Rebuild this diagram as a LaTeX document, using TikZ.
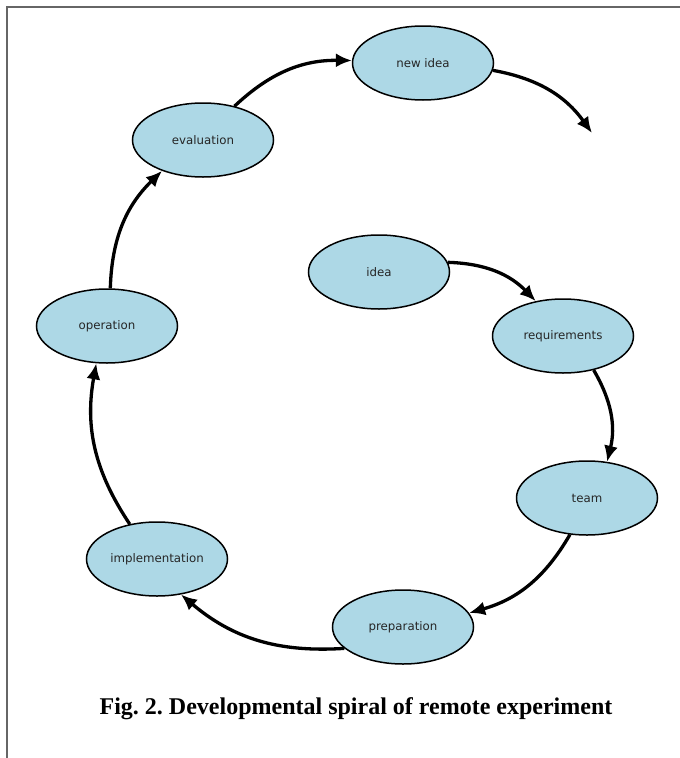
\documentclass[tikz,border=0pt]{standalone}
\usepackage{fontspec}
\setmainfont{Liberation Serif}
\newfontfamily\nodefont{DejaVu Sans}
\usetikzlibrary{shapes.geometric,arrows.meta}
\definecolor{nodefill}{HTML}{ADD8E6}
\definecolor{framegray}{HTML}{666666}
\frenchspacing
\tikzset{
  stage/.style={ellipse, draw=black, line width=1.5pt, fill=nodefill,
    minimum width=141pt, minimum height=74pt, inner sep=0pt,
    font=\nodefont\fontsize{11.8}{13}\selectfont, text=black!85},
  flow/.style={line width=3.3pt, -{Latex[length=16pt,width=14pt]}, bend left=22},
  frame/.style={draw=framegray, line width=1.6pt}
}
\begin{document}
\begin{tikzpicture}[x=1pt,y=-1pt]
\useasboundingbox (0,0) rectangle (680,758);
\draw[frame] (7,758) -- (7,7) -- (680,7);
\node[stage] (newidea) at (423,63) {new idea};
\node[stage] (eval) at (203,140) {evaluation};
\node[stage] (idea) at (379,272) {idea};
\node[stage] (req) at (563,336) {requirements};
\node[stage] (op) at (107,326) {operation};
\node[stage] (team) at (587,498) {team};
\node[stage] (impl) at (157,559) {implementation};
\node[stage] (prep) at (403,627) {preparation};
\coordinate (next) at (592,133);
\draw[flow] (idea.8) to (req.128);
\draw[flow] (req.-48) to (team.61);
\draw[flow] (team.-115) to (prep.12);
\draw[flow] (prep.-160) to (impl.-56);
\draw[flow] (impl.128) to (op.-106);
\draw[flow] (op.85) to (eval.-143);
\draw[flow] (eval.47) to (newidea.178);
\draw[flow] (newidea.-6) to (next);
\node[font=\bfseries\fontsize{24}{28}\selectfont, anchor=base] (cap) at (356,714) {Fig. 2. Developmental spiral of remote experiment};
\end{tikzpicture}
\end{document}
